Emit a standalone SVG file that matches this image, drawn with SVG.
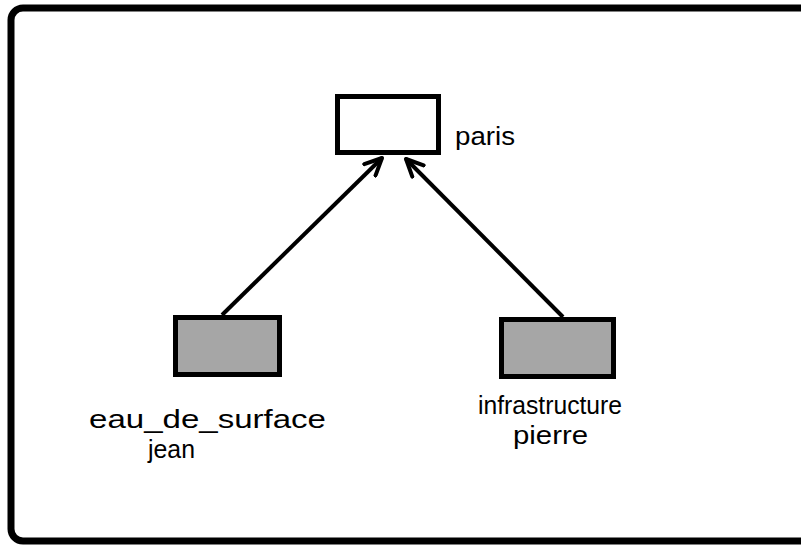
<svg xmlns="http://www.w3.org/2000/svg" width="801" height="546" viewBox="0 0 801 546">
<style>
.box{stroke:#000;stroke-width:5}
.lbl{font-family:"Liberation Sans",Arial,sans-serif;font-size:26px;fill:#000}
.edge{stroke:#000;stroke-width:4;fill:none}
</style>
<defs>
<marker id="arr" markerWidth="22" markerHeight="20" refX="19" refY="10" orient="auto" markerUnits="userSpaceOnUse" viewBox="0 0 22 20">
<path d="M2,2 L19,10 L2,18" fill="none" stroke="#000" stroke-width="4" stroke-linecap="round" stroke-linejoin="round"/>
</marker>
</defs>
<rect width="801" height="546" fill="#fff"/>
<rect x="11" y="8" width="805" height="533" rx="12" fill="none" stroke="#000" stroke-width="7"/>
<g id="connectors">
<path class="edge" d="M222,315 L382,158" marker-end="url(#arr)"/>
<path class="edge" d="M563,317 L406,159" marker-end="url(#arr)"/>
</g>
<g id="paris">
<rect class="box" x="337.5" y="96.5" width="101" height="56" fill="#fff"/>
<text class="lbl" x="455" y="145" textLength="60" lengthAdjust="spacingAndGlyphs">paris</text>
</g>
<g id="eau_de_surface">
<rect class="box" x="175.5" y="317.5" width="104" height="57" fill="#a6a6a6"/>
<text class="lbl" x="89" y="428" textLength="237" lengthAdjust="spacingAndGlyphs">eau_de_surface</text>
<text class="lbl" x="148" y="458" textLength="47" lengthAdjust="spacingAndGlyphs">jean</text>
</g>
<g id="infrastructure">
<rect class="box" x="501.5" y="319.5" width="112" height="57" fill="#a6a6a6"/>
<text class="lbl" x="478" y="414" textLength="144" lengthAdjust="spacingAndGlyphs">infrastructure</text>
<text class="lbl" x="513" y="444" textLength="75" lengthAdjust="spacingAndGlyphs">pierre</text>
</g>
</svg>
